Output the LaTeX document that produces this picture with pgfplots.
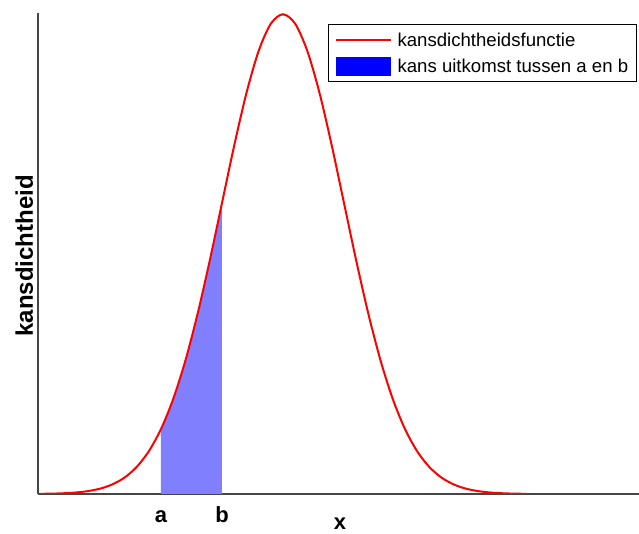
\documentclass[border=0pt]{standalone}
\usepackage{pgfplots}
\pgfplotsset{compat=1.18}
\usepackage{fontspec}
\setmainfont{Liberation Sans}
\definecolor{fillblue}{RGB}{128,128,255}
\definecolor{axgray}{RGB}{70,70,70}
\begin{document}
\begin{tikzpicture}
\path[use as bounding box] (-38pt,-40pt) rectangle (601pt,494pt);
\begin{axis}[
  scale only axis,
  width=601pt, height=481pt,
  at={(0pt,0pt)}, anchor=south west,
  xmin=-4.016, xmax=5.836,
  ymin=0, ymax=0.4,
  axis lines*=left,
  axis line style={axgray, line width=1.2pt},
  ytick=\empty,
  xtick={-2,-1},
  xticklabels={a,b},
  major tick length=0pt,
  xticklabel style={font=\fontsize{22}{26}\bfseries, anchor=base, yshift=-29pt},
  xlabel={x},
  ylabel={kansdichtheid},
  xlabel style={font=\fontsize{22}{26}\bfseries, at={(axis description cs:0.5025,0)}, anchor=base, yshift=-36pt},
  ylabel style={font=\fontsize{24}{28}\bfseries, at={(axis description cs:0,0.495)}, anchor=base, yshift=5pt, rotate=0},
  legend style={at={(axis description cs:0.4825,0.977)}, anchor=north west,
    draw=black, line width=1.2pt, font=\fontsize{18.6}{22}\selectfont,
    inner xsep=6pt, inner ysep=6pt, row sep=7pt, column sep=4pt},
  legend cell align=left,
  reverse legend,
]
\addplot[fill=fillblue, draw=none,
  legend image code/.code={\fill[blue] (0pt,-9.5pt) rectangle (55pt,9.5pt);}] coordinates {
(-2.0,0) (-2.0,0.05399) (-1.8,0.07895) (-1.6,0.11092) (-1.4,0.14973) (-1.2,0.19419) (-1.0,0.24197) (-1.0,0)
} -- cycle;
\addlegendentry{kans uitkomst tussen a en b}

\addplot[red, line width=2pt, smooth,
  legend image code/.code={\draw[red, line width=2pt] (0pt,0pt) -- (55pt,0pt);}] coordinates {
(-4.0,0.00013) (-3.8,0.00029) (-3.6,0.00061) (-3.4,0.00123) (-3.2,0.00238) (-3.0,0.00443)
(-2.8,0.00792) (-2.6,0.01358) (-2.4,0.02239) (-2.2,0.03547) (-2.0,0.05399) (-1.8,0.07895)
(-1.6,0.11092) (-1.4,0.14973) (-1.2,0.19419) (-1.0,0.24197) (-0.8,0.28969) (-0.6,0.33322)
(-0.4,0.36827) (-0.2,0.39104) (0.0,0.39894) (0.2,0.39104) (0.4,0.36827) (0.6,0.33322)
(0.8,0.28969) (1.0,0.24197) (1.2,0.19419) (1.4,0.14973) (1.6,0.11092) (1.8,0.07895)
(2.0,0.05399) (2.2,0.03547) (2.4,0.02239) (2.6,0.01358) (2.8,0.00792) (3.0,0.00443)
(3.2,0.00238) (3.4,0.00123) (3.6,0.00061) (3.8,0.00029) (4.0,0.00013)
};
\addlegendentry{kansdichtheidsfunctie}
\end{axis}
\end{tikzpicture}
\end{document}
